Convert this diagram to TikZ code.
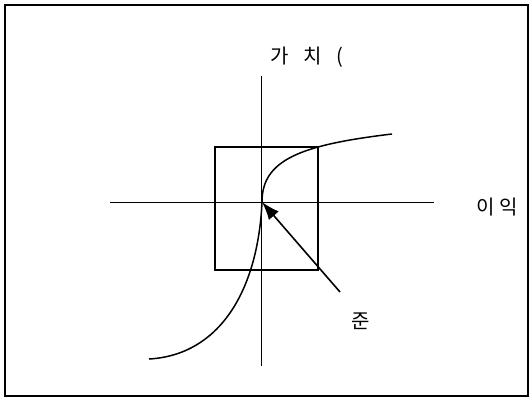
\documentclass[tikz,border=0pt]{standalone}
\usepackage{fontspec}
\newfontfamily\kr{Noto Sans CJK KR}
\usetikzlibrary{arrows.meta,positioning}

\begin{document}
\begin{tikzpicture}[x=1pt, y=-1pt,
  frame/.style={draw, line width=2pt},
  axis/.style={line width=1pt},
  box/.style={draw, line width=2pt, minimum width=103pt, minimum height=123pt, inner sep=0pt},
  curve/.style={line width=1.5pt},
  arr/.style={-{Latex[length=18pt, width=13pt]}, line width=1.6pt},
  lbl/.style={font=\kr\fontsize{20}{24}\selectfont, inner sep=0pt}
]
  \useasboundingbox (0,0) rectangle (532,399);
  \draw[frame] (5,5) rectangle (528,396);

  \coordinate (o) at (262,202);
  \coordinate (ytop) at (261,76);
  \coordinate (ybot) at (261,366);
  \coordinate (xl) at (110,202);
  \coordinate (xr) at (434,202);
  \coordinate (cstart) at (149,359);
  \coordinate (cend) at (392,134);
  \coordinate (tail) at (340,292);

  \node[box] (frame) at (266.5,208.5) {};

  \draw[axis] (ytop) -- (ybot);
  \draw[axis] (xl) -- (xr);

  \draw[curve] (cstart) .. controls (220,355) and (258,290) .. (o)
    .. controls (262,160) and (300,145) .. (cend);

  \draw[arr] (tail) -- (o);

  \node[lbl, anchor=west] (value) at (270,57) {가\hspace{15pt}치\hspace{14pt}(};
  \node[lbl, anchor=west] (gain) at (476,207) {이\hspace{5pt}익};
  \node[lbl] (refpt) at (361,321) {준};
\end{tikzpicture}
\end{document}
